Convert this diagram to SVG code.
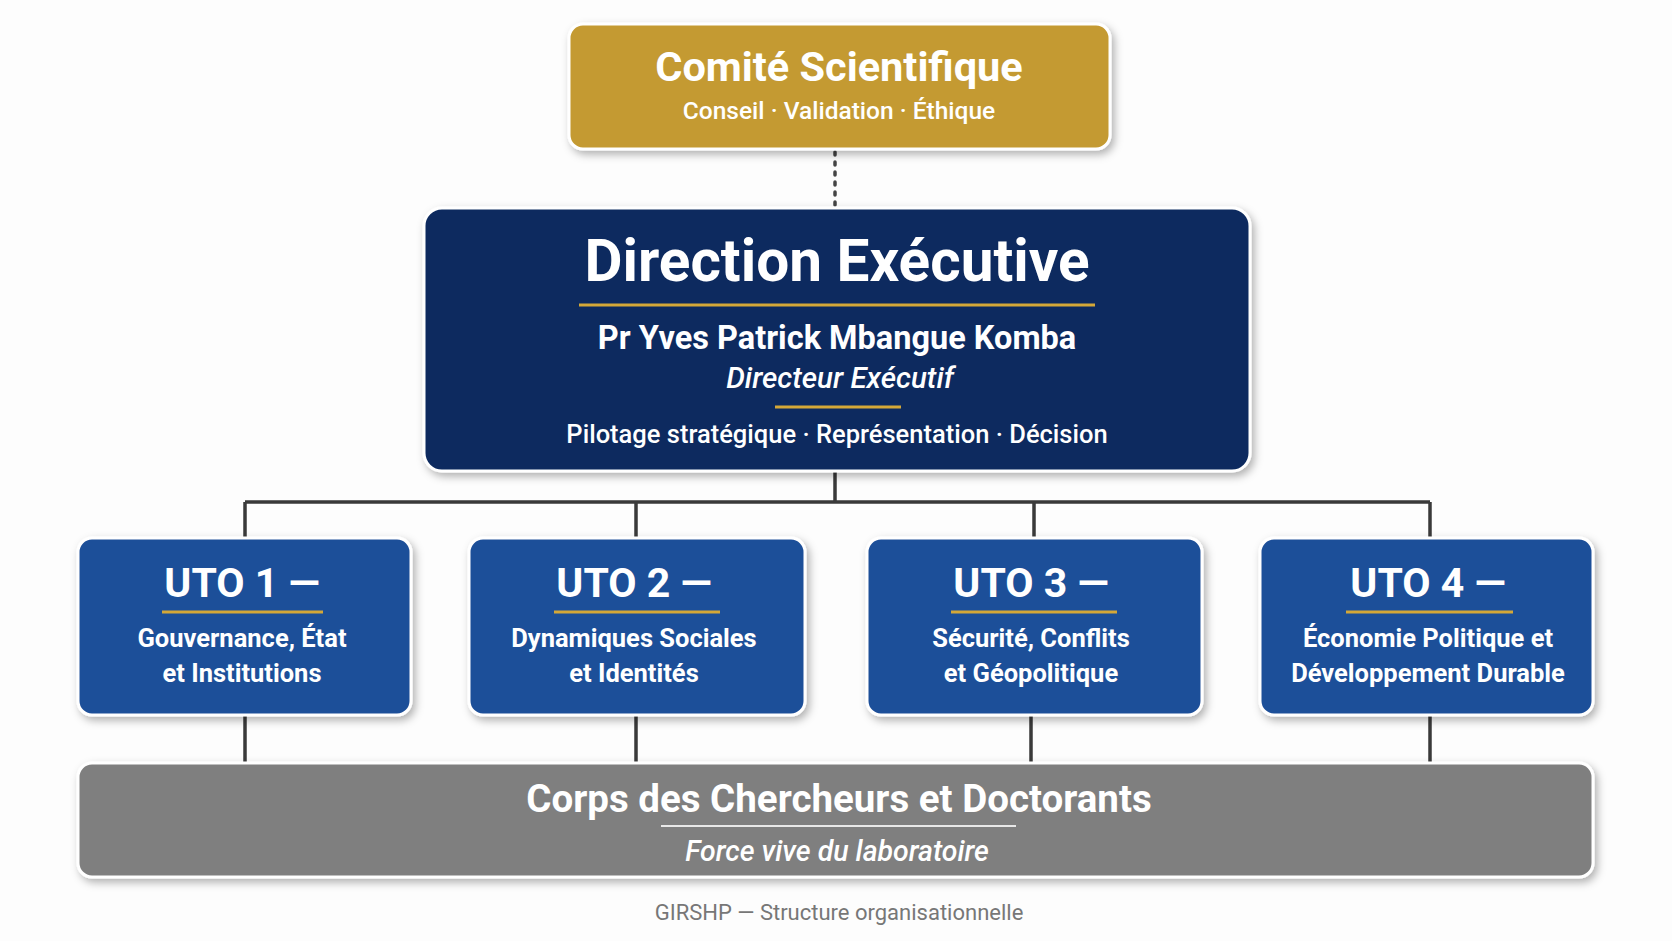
<svg xmlns="http://www.w3.org/2000/svg" width="1672" height="941" viewBox="0 0 1672 941">
<defs>
<filter id="sh" x="-10%" y="-10%" width="120%" height="130%"><feDropShadow dx="3" dy="4" stdDeviation="4" flood-color="#000" flood-opacity="0.3"/></filter>
<style>
text{font-family:Roboto,"Liberation Sans",sans-serif;text-anchor:middle;fill:#fff}
.b{font-weight:bold}
.m{font-weight:500}
.it{font-style:italic;font-weight:500}
.box{stroke:#fff;stroke-width:3;filter:url(#sh)}
.gl{stroke:#D4A838;stroke-width:3}
.c{stroke:#3a3a3a;stroke-width:3.5;fill:none}
.ut{font-size:41px;font-weight:bold}
.us{font-size:25.5px;font-weight:bold}
</style>
</defs>
<rect width="1672" height="941" fill="#fdfdfd"/>
<g id="connectors">
<line x1="835" y1="152" x2="835" y2="206" stroke="#444" stroke-width="3.5" stroke-dasharray="3,7" stroke-linecap="round"/>
<path class="c" d="M835 471V502M245 502H1430M245 502V538M636 502V538M1034 502V538M1430 502V538"/>
<path class="c" d="M245 715V763M636 715V763M1031 715V763M1430 715V763"/>
</g>
<g id="comite">
<rect class="box" x="569" y="24" width="541" height="125" rx="14" fill="#C49A30"/>
<text x="839" y="81" class="b" font-size="41.5">Comité Scientifique</text>
<text x="839" y="119" class="m" font-size="24.5">Conseil · Validation · Éthique</text>
</g>
<g id="direction">
<rect class="box" x="424" y="208" width="826" height="263" rx="18" fill="#0B2A5E"/>
<text x="837" y="281" class="b" font-size="58.5">Direction Exécutive</text>
<line class="gl" x1="579" y1="305" x2="1095" y2="305"/>
<text x="837" y="349" class="b" font-size="32.5">Pr Yves Patrick Mbangue Komba</text>
<text x="840" y="388" class="it" font-size="29.5">Directeur Exécutif</text>
<line class="gl" x1="775" y1="407" x2="901" y2="407"/>
<text x="837" y="443" class="m" font-size="25.5">Pilotage stratégique · Représentation · Décision</text>
</g>
<g id="uto1">
<rect class="box" x="78" y="538" width="333" height="177" rx="14" fill="#1F4F99"/>
<text x="242" y="597" class="ut">UTO 1 —</text>
<line class="gl" x1="162" y1="612" x2="323" y2="612"/>
<text x="242" y="647" class="us">Gouvernance, État</text>
<text x="242" y="682" class="us">et Institutions</text>
</g>
<g id="uto2">
<rect class="box" x="469" y="538" width="336" height="177" rx="14" fill="#1F4F99"/>
<text x="634" y="597" class="ut">UTO 2 —</text>
<line class="gl" x1="554" y1="612" x2="720" y2="612"/>
<text x="634" y="647" class="us">Dynamiques Sociales</text>
<text x="634" y="682" class="us">et Identités</text>
</g>
<g id="uto3">
<rect class="box" x="867" y="538" width="335" height="177" rx="14" fill="#1F4F99"/>
<text x="1031" y="597" class="ut">UTO 3 —</text>
<line class="gl" x1="951" y1="612" x2="1117" y2="612"/>
<text x="1031" y="647" class="us">Sécurité, Conflits</text>
<text x="1031" y="682" class="us">et Géopolitique</text>
</g>
<g id="uto4">
<rect class="box" x="1260" y="538" width="333" height="177" rx="14" fill="#1F4F99"/>
<text x="1428" y="597" class="ut">UTO 4 —</text>
<line class="gl" x1="1346" y1="612" x2="1513" y2="612"/>
<text x="1428" y="647" class="us">Économie Politique et</text>
<text x="1428" y="682" class="us">Développement Durable</text>
</g>
<g id="corps">
<rect class="box" x="78" y="763" width="1515" height="114" rx="14" fill="#7F7F7F"/>
<text x="839" y="812" class="b" font-size="38.5">Corps des Chercheurs et Doctorants</text>
<line x1="661" y1="826" x2="1016" y2="826" stroke="#e8e8e8" stroke-width="2"/>
<text x="837" y="861" class="it" font-size="28.5">Force vive du laboratoire</text>
</g>
<text x="839" y="920" font-size="22" style="fill:#777">GIRSHP — Structure organisationnelle</text>
</svg>
